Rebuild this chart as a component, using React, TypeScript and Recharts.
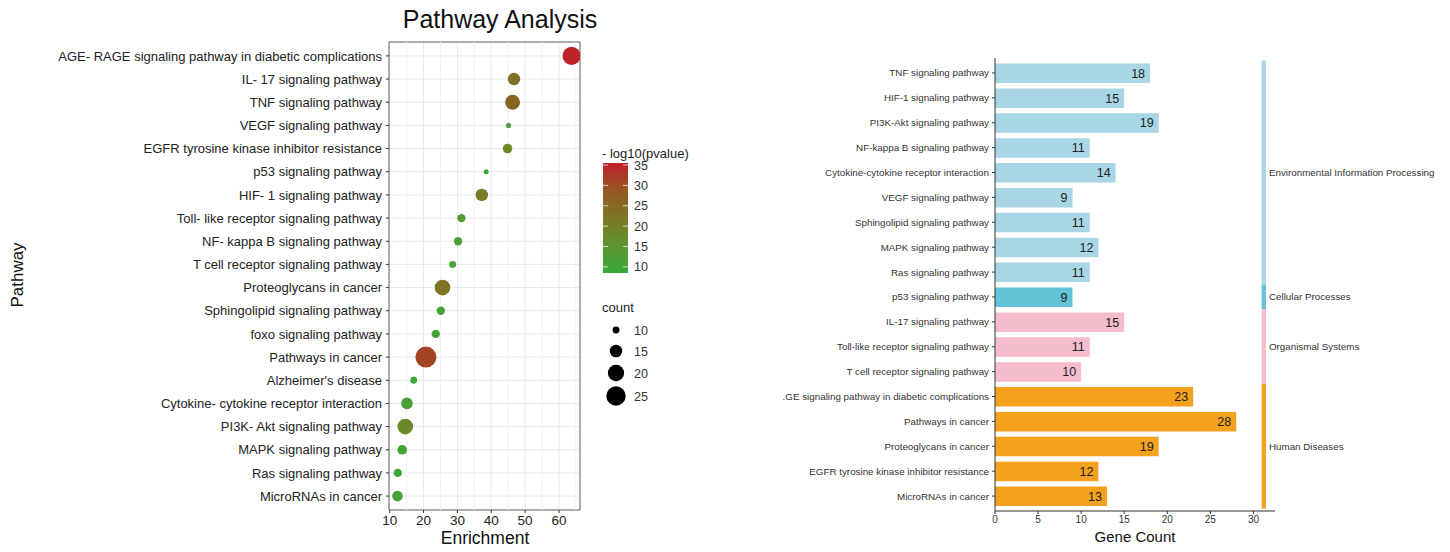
import React from "react";
import {
  ScatterChart,
  Scatter,
  XAxis,
  YAxis,
  ZAxis,
  CartesianGrid,
  Cell,
  ReferenceLine,
  ReferenceArea,
  BarChart,
  Bar,
  LabelList,
} from "recharts";

const FONT = '"Liberation Sans", Arial, Helvetica, sans-serif';

// ---- left: pathway enrichment bubbles (top to bottom) ----
const pathways = [
  "AGE- RAGE signaling pathway in diabetic complications",
  "IL- 17 signaling pathway",
  "TNF signaling pathway",
  "VEGF signaling pathway",
  "EGFR tyrosine kinase inhibitor resistance",
  "p53 signaling pathway",
  "HIF- 1 signaling pathway",
  "Toll- like receptor signaling pathway",
  "NF- kappa B signaling pathway",
  "T cell receptor signaling pathway",
  "Proteoglycans in cancer",
  "Sphingolipid signaling pathway",
  "foxo signaling pathway",
  "Pathways in cancer",
  "Alzheimer's disease",
  "Cytokine- cytokine receptor interaction",
  "PI3K- Akt signaling pathway",
  "MAPK signaling pathway",
  "Ras signaling pathway",
  "MicroRNAs in cancer",
];
const enrichment = [63.7, 46.7, 46.3, 45.1, 44.8, 38.5, 37.2, 31.2, 30.2, 28.6, 25.6, 25.1, 23.6, 20.7, 17.1, 15.1, 14.6, 13.7, 12.4, 12.3];
const pathwayCount = [23, 15, 18, 9, 12, 9, 15, 11, 11, 10, 19, 11, 11, 28, 10, 14, 19, 12, 11, 13];
const negLog10P = [35, 23, 26, 11, 18, 10, 21, 13, 12, 11, 23, 11, 11, 31, 10, 12, 18, 11, 10, 11];

const enrichTicks = [10, 20, 30, 40, 50, 60];
const enrichMinor = [15, 25, 35, 45, 55, 65];
const pTicks = [10, 15, 20, 25, 30, 35];
const countTicks = [10, 15, 20, 25];

// ---- right: gene count bars ----
const barPathways = [
  "TNF signaling pathway",
  "HIF-1 signaling pathway",
  "PI3K-Akt signaling pathway",
  "NF-kappa B signaling pathway",
  "Cytokine-cytokine receptor interaction",
  "VEGF signaling pathway",
  "Sphingolipid signaling pathway",
  "MAPK signaling pathway",
  "Ras signaling pathway",
  "p53 signaling pathway",
  "IL-17 signaling pathway",
  "Toll-like receptor signaling pathway",
  "T cell receptor signaling pathway",
  ".GE signaling pathway in diabetic complications",
  "Pathways in cancer",
  "Proteoglycans in cancer",
  "EGFR tyrosine kinase inhibitor resistance",
  "MicroRNAs in cancer",
];
const geneCount = [18, 15, 19, 11, 14, 9, 11, 12, 11, 9, 15, 11, 10, 23, 28, 19, 12, 13];
const barClass = [
  "Environmental Information Processing",
  "Environmental Information Processing",
  "Environmental Information Processing",
  "Environmental Information Processing",
  "Environmental Information Processing",
  "Environmental Information Processing",
  "Environmental Information Processing",
  "Environmental Information Processing",
  "Environmental Information Processing",
  "Cellular Processes",
  "Organismal Systems",
  "Organismal Systems",
  "Organismal Systems",
  "Human Diseases",
  "Human Diseases",
  "Human Diseases",
  "Human Diseases",
  "Human Diseases",
];
const classNames = [
  "Environmental Information Processing",
  "Cellular Processes",
  "Organismal Systems",
  "Human Diseases",
];
const geneTicks = [0, 5, 10, 15, 20, 25, 30];

const classColor: Record<string, string> = {
  "Environmental Information Processing": "#a9d6e4",
  "Cellular Processes": "#62c3d9",
  "Organismal Systems": "#f5bccb",
  "Human Diseases": "#f4a11e",
};

const colorStops: [number, string][] = [
  [8.5, "#36a83a"],
  [12, "#4aa035"],
  [16, "#62922e"],
  [20, "#767f26"],
  [25, "#846b24"],
  [30, "#9c4e24"],
  [35.5, "#be1f2a"],
];

function hex(c: string) {
  return [1, 3, 5].map((i) => parseInt(c.slice(i, i + 2), 16));
}

function pColor(v: number) {
  let i = 0;
  while (i < colorStops.length - 2 && v > colorStops[i + 1][0]) i++;
  const [v0, c0] = colorStops[i];
  const [v1, c1] = colorStops[i + 1];
  const t = Math.max(0, Math.min(1, (v - v0) / (v1 - v0)));
  const a = hex(c0);
  const b = hex(c1);
  const m = a.map((x, k) => Math.round(x + (b[k] - x) * t));
  return `rgb(${m[0]},${m[1]},${m[2]})`;
}

// bubble area follows ZAxis domain/range
const Z_DOMAIN = [8, 28];
const Z_RANGE = [3, 346];
function countRadius(z: number) {
  const area = Z_RANGE[0] + ((z - Z_DOMAIN[0]) / (Z_DOMAIN[1] - Z_DOMAIN[0])) * (Z_RANGE[1] - Z_RANGE[0]);
  return Math.sqrt(area / Math.PI);
}

const scatterData = pathways.map((name, i) => ({
  row: i,
  name,
  enrichment: enrichment[i],
  count: pathwayCount[i],
  p: negLog10P[i],
}));

const barData = barPathways.map((name, i) => ({
  pathway: name,
  count: geneCount[i],
  group: barClass[i],
}));

// plain one-line tick so long names don't wrap
function BarTick(props: any) {
  const { x, y, payload } = props;
  return (
    <text x={x} y={y} dy={3.5} textAnchor="end" fontSize={9.8} fill="#333" fontFamily={FONT}>
      {payload.value}
    </text>
  );
}

function Legend() {
  const top = 163;
  const bottom = 273;
  const lo = 8.5;
  const hi = 35.5;
  const yOf = (v: number) => bottom - ((v - lo) / (hi - lo)) * (bottom - top);
  const gradStops = [35.5, 30, 25, 20, 15, 10, 8.5];
  const countY = [330, 351, 373, 396];
  return (
    <g fontFamily={FONT}>
      <defs>
        <linearGradient id="pbar" x1="0" y1="0" x2="0" y2="1">
          {gradStops.map((v) => (
            <stop key={v} offset={(hi - v) / (hi - lo)} stopColor={pColor(v)} />
          ))}
        </linearGradient>
      </defs>
      <text x={602} y={158} fontSize={13} fill="#222">- log10(pvalue)</text>
      <rect x={603} y={top} width={25} height={bottom - top} fill="url(#pbar)" />
      {pTicks.map((v) => (
        <g key={v}>
          <line x1={603} x2={608} y1={yOf(v)} y2={yOf(v)} stroke="#fff" strokeOpacity={0.7} />
          <line x1={623} x2={628} y1={yOf(v)} y2={yOf(v)} stroke="#fff" strokeOpacity={0.7} />
          <text x={634} y={yOf(v) + 4.5} fontSize={12.5} fill="#333">{v}</text>
        </g>
      ))}
      <text x={602} y={312} fontSize={13} fill="#222">count</text>
      {countTicks.map((c, i) => (
        <g key={c}>
          <circle cx={616} cy={countY[i]} r={countRadius(c)} fill="#000" />
          <text x={634} y={countY[i] + 4.5} fontSize={12.5} fill="#333">{c}</text>
        </g>
      ))}
    </g>
  );
}

export default function App() {
  const groupSpans = classNames.map((g) => {
    const rows = barPathways.filter((_, i) => barClass[i] === g);
    return { g, first: rows[0], last: rows[rows.length - 1] };
  });

  return (
    <div style={{ position: "absolute", left: 0, top: 0, width: 1450, height: 552, background: "#fff", fontFamily: FONT }}>
      <div style={{ position: "absolute", left: 0, top: 0 }}>
        <ScatterChart width={590} height={552} margin={{ top: 42, right: 10, bottom: 0, left: 0 }}>
          <CartesianGrid stroke="#e9e9e9" />
          {enrichMinor.map((v) => (
            <ReferenceLine key={v} x={v} stroke="#f1f1f1" ifOverflow="hidden" />
          ))}
          <XAxis
            type="number"
            dataKey="enrichment"
            domain={[9.8, 66.2]}
            allowDataOverflow
            ticks={enrichTicks}
            interval={0}
            height={42}
            axisLine={false}
            tickLine={{ stroke: "#333" }}
            tickSize={3}
            tickMargin={2}
            tick={{ fontSize: 13.5, fill: "#222", fontFamily: FONT }}
          />
          <YAxis
            type="number"
            dataKey="row"
            domain={[-0.6, 19.6]}
            allowDataOverflow
            reversed
            ticks={scatterData.map((d) => d.row)}
            interval={0}
            tickFormatter={(i: number) => pathways[i]}
            width={389}
            axisLine={false}
            tickLine={{ stroke: "#333" }}
            tickSize={3}
            tickMargin={4}
            tick={{ fontSize: 13, fill: "#222", fontFamily: FONT }}
          />
          <ZAxis type="number" dataKey="count" domain={Z_DOMAIN} range={Z_RANGE} />
          <Scatter data={scatterData} isAnimationActive={false}>
            {scatterData.map((d) => (
              <Cell key={d.name} fill={pColor(d.p)} />
            ))}
          </Scatter>
          <ReferenceArea x1={9.8} x2={66.2} y1={-0.6} y2={19.6} fill="none" fillOpacity={0} stroke="#666" strokeWidth={1} />
        </ScatterChart>
      </div>

      <div style={{ position: "absolute", left: 700, top: 0 }}>
        <BarChart
          layout="vertical"
          width={750}
          height={552}
          data={barData}
          margin={{ top: 58, right: 175, bottom: 0, left: 0 }}
        >
          <XAxis
            type="number"
            domain={[0, 32.5]}
            allowDataOverflow
            ticks={geneTicks}
            interval={0}
            height={41}
            axisLine={{ stroke: "#333" }}
            tickLine={{ stroke: "#333" }}
            tickSize={3}
            tickMargin={2}
            tick={{ fontSize: 10, fill: "#333", fontFamily: FONT }}
          />
          <YAxis
            type="category"
            dataKey="pathway"
            width={295}
            interval={0}
            padding={{ top: 2.5, bottom: 2.5 }}
            axisLine={{ stroke: "#333" }}
            tickLine={{ stroke: "#333" }}
            tickSize={3}
            tickMargin={3}
            tick={<BarTick />}
          />
          <Bar dataKey="count" barSize={19.5} isAnimationActive={false}>
            {barData.map((d) => (
              <Cell key={d.pathway} fill={classColor[d.group]} />
            ))}
            <LabelList dataKey="count" position="insideRight" offset={5} fontSize={12.5} fill="#222" fontFamily={FONT} />
          </Bar>
          {groupSpans.map((s) => (
            <ReferenceArea
              key={s.g}
              x1={30.95}
              x2={31.45}
              y1={s.first}
              y2={s.last}
              ifOverflow="visible"
              fill={classColor[s.g]}
              fillOpacity={1}
              stroke="none"
              label={{ value: s.g, position: "right", offset: 3, fontSize: 9.8, fill: "#333", fontFamily: FONT }}
            />
          ))}
        </BarChart>
      </div>

      <svg width={1450} height={552} style={{ position: "absolute", left: 0, top: 0, pointerEvents: "none" }}>
        <text x={500} y={28} textAnchor="middle" fontSize={25} fill="#111" fontFamily={FONT}>Pathway Analysis</text>
        <text x={485} y={544} textAnchor="middle" fontSize={17.5} fill="#111" fontFamily={FONT}>Enrichment</text>
        <text transform="translate(23,275) rotate(-90)" textAnchor="middle" fontSize={17} fill="#111" fontFamily={FONT}>Pathway</text>
        <text x={1135} y={542} textAnchor="middle" fontSize={15} fill="#111" fontFamily={FONT}>Gene Count</text>
        <Legend />
      </svg>
    </div>
  );
}
